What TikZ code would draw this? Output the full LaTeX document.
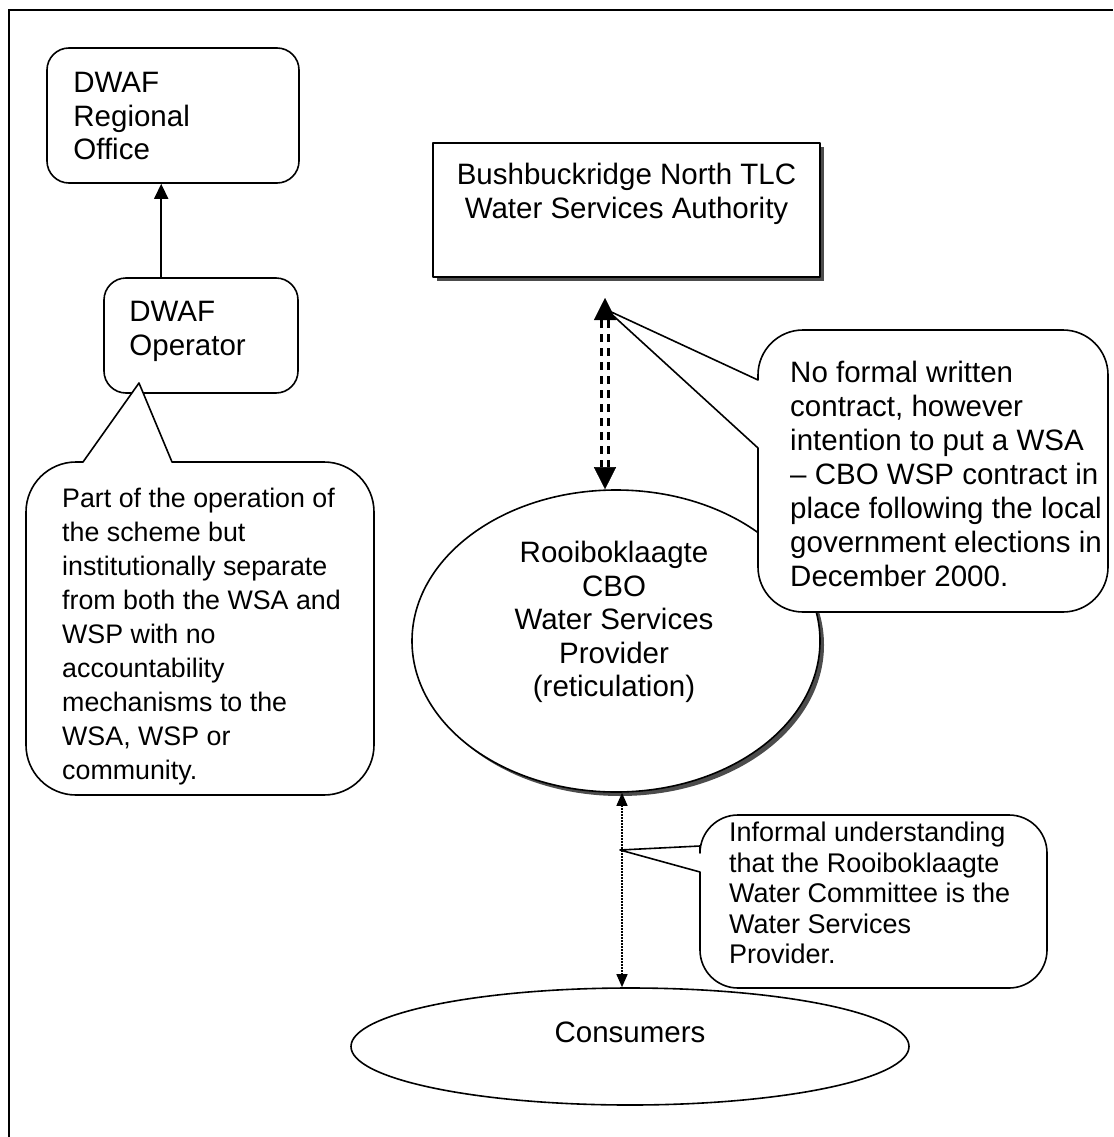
\documentclass[tikz,border=0pt]{standalone}
\usepackage{fontspec}
\setmainfont{Liberation Sans}
\usetikzlibrary{arrows.meta,shapes.geometric,calc}
\begin{document}
\begin{tikzpicture}[x=1pt,y=1pt]
\tikzset{
  ln/.style={line width=1.6pt, line join=round},
  txt/.style={font=\fontsize{29.5}{33.5}\selectfont, align=left, inner sep=0pt},
  ctxt/.style={font=\fontsize{26.8}{34}\selectfont, align=left, inner sep=0pt},
  rbox/.style={draw, ln, rounded corners=22pt, inner sep=0pt, fill=white},
  callout/.style={draw, ln, fill=white},
  solidarrow/.style={ln, -{Triangle[length=15pt,width=14pt]}},
  dotarrow/.style={line width=1.4pt, dash pattern=on 1.4pt off 1.6pt,
     {Triangle[length=13pt,width=11pt]}-{Triangle[length=13pt,width=11pt]}},
  dashln/.style={line width=2.4pt, dash pattern=on 8pt off 6pt},
  bigheads/.style={white, line width=0.4pt,
     {Triangle[length=22pt,width=22pt,color=black]}-{Triangle[length=22pt,width=22pt,color=black]}},
  shadowfill/.style={fill=black!70, draw=none}
}
\useasboundingbox (0,0) rectangle (1113,-1137);
% frame
\draw[line width=1.6pt] (9,-1137) -- (9,-10) -- (1113,-10);

% DWAF boxes
\node[rbox, minimum width=252pt, minimum height=135pt] (reg) at (173,-115.5) {};
\node[txt, anchor=north west] (regtxt) at ($(reg.north west)+(27,-25)$) {DWAF\\Regional\\Office};
\node[rbox, minimum width=194pt, minimum height=115pt] (op) at (201,-335.5) {};
\node[txt, anchor=north west] (optxt) at ($(op.north west)+(26,-24)$) {DWAF\\Operator};
\draw[solidarrow] ($(op.north west)+(58,0)$) -- ($(reg.south west)+(115,0)$);

% WSA box with shadow
\fill[shadowfill] (437,-147) rectangle (824,-281);
\node[draw, ln, fill=white, minimum width=387pt, minimum height=134pt, inner sep=0pt] (wsa) at (626.5,-210) {};
\node[txt, align=center, anchor=north] (wsatxt) at ($(wsa.north)+(0,-21)$) {Bushbuckridge North TLC\\Water Services Authority};

% CBO ellipse with shadow
\fill[shadowfill] (620,-645) ellipse [x radius=204, y radius=151];
\node[ellipse, draw, ln, fill=white, minimum width=408pt, minimum height=302pt,
      inner sep=0pt] (cbo) at (616,-641) {};
\node[txt, align=center] (cbotxt) at (614,-622)
      {Rooiboklaagte\\CBO\\Water Services\\Provider\\(reticulation)};

% Consumers
\node[ellipse, draw, ln, fill=white, minimum width=558pt, minimum height=117pt, inner sep=0pt] (cons) at (630,-1046.5) {};
\node[txt] (constxt) at (630,-1032) {Consumers};

% WSA <-> CBO double dashed arrow
\coordinate (wsaTip) at (605,-298);
\coordinate (cboTop) at (wsaTip |- cbo.north);
\draw[bigheads] (wsaTip) -- (cboTop);
\draw[dashln] ($(wsaTip)+(-3.5,-22)$) -- ($(cboTop)+(-3.5,22)$);
\draw[dashln] ($(wsaTip)+(3.5,-22)$) -- ($(cboTop)+(3.5,22)$);

% CBO <-> Consumers dotted arrow
\draw[dotarrow] ($(cbo.south)+(6,0)$) -- ($(cons.north)+(-8,0)$);

% Callout left
\coordinate (c1tip) at (139,-383);
\draw[callout] (83,-462) -- (c1tip) -- (172,-462) -- (324,-462)
   arc[start angle=90,end angle=0,radius=50] -- (374,-745)
   arc[start angle=0,end angle=-90,radius=50] -- (76,-795)
   arc[start angle=270,end angle=180,radius=50] -- (26,-512)
   arc[start angle=180,end angle=90,radius=50] -- cycle;
\node[ctxt, anchor=north west] (c1txt) at (62,-488)
  {Part of the operation of\\the scheme but\\institutionally separate\\from both the WSA and\\WSP with no\\accountability\\mechanisms to the\\WSA, WSP or\\community.};

% Callout right
\coordinate (c2tip) at (607,-310);
\draw[callout] (758,-448) -- (c2tip) -- (758,-380) -- (758,-375)
   arc[start angle=180,end angle=90,radius=45] -- (1063,-330)
   arc[start angle=90,end angle=0,radius=45] -- (1108,-567)
   arc[start angle=0,end angle=-90,radius=45] -- (803,-612)
   arc[start angle=270,end angle=180,radius=45] -- cycle;
\node[ctxt, font=\fontsize{29.5}{34}\selectfont, anchor=north west] (c2txt) at (790,-361)
  {No formal written\\contract, however\\intention to put a WSA\\-- CBO WSP contract in\\place following the local\\government elections in\\December 2000.};

% Callout bottom
\coordinate (c3tip) at (620,-850);
\draw[callout] (700,-872) -- (c3tip) -- (700,-846) -- (700,-853)
   arc[start angle=180,end angle=90,radius=38] -- (1009,-815)
   arc[start angle=90,end angle=0,radius=38] -- (1047,-950)
   arc[start angle=0,end angle=-90,radius=38] -- (738,-988)
   arc[start angle=270,end angle=180,radius=38] -- cycle;
\node[ctxt, font=\fontsize{27}{30.5}\selectfont, anchor=north west] (c3txt) at (729,-822)
  {Informal understanding\\that the Rooiboklaagte\\Water Committee is the\\Water Services\\Provider.};
\end{tikzpicture}
\end{document}
